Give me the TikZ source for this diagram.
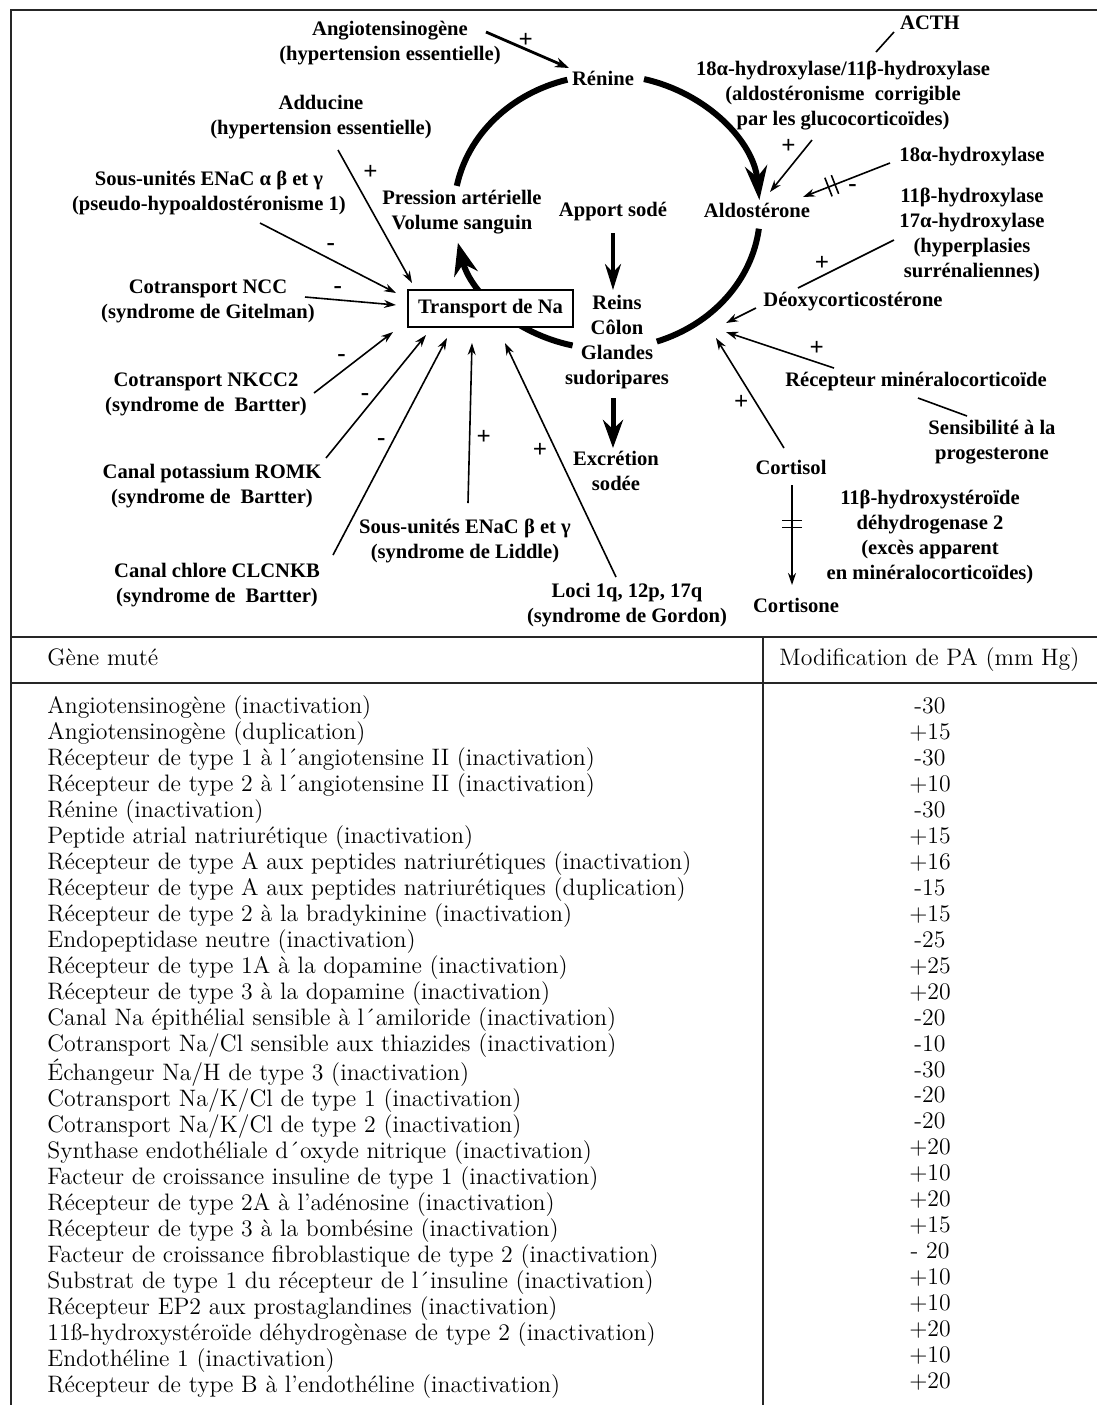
\documentclass[tikz,border=0pt]{standalone}
\usepackage{fontspec}
\newfontfamily\diagfont{Liberation Serif}
\usetikzlibrary{arrows.meta,positioning,decorations.markings}
\tikzstyle{txt} = [font=\diagfont\bfseries\fontsize{10.3}{12.5}\selectfont, align=center, inner sep=1pt]
\tikzstyle{box} = [txt, rectangle, draw, fill=white, line width=1pt,
    minimum width=82.5pt, minimum height=18.5pt]
\tikzstyle{sign} = [font=\diagfont\bfseries\fontsize{12.5}{13}\selectfont, inner sep=0pt]
\tikzstyle{line} = [draw, line width=0.8pt, -{Stealth[length=6pt, width=4pt]}]
\tikzstyle{link} = [draw, line width=0.8pt]
\tikzstyle{strong} = [draw, line width=1.8pt, -{Stealth[length=13pt, width=8pt]}]
\tikzstyle{loopline} = [draw, line width=3pt]
\tikzstyle{frame} = [draw, line width=1.2pt, black!85]
\tikzstyle{tabtext} = [font=\fontsize{11.9}{12.98}\selectfont, inner sep=0pt]
\tikzset{blocked/.style={postaction={decorate, decoration={markings,
    mark=at position #1 with {\draw [-, line width=0.8pt] (-3.5,-10) -- (-3.5,10) (3.5,-10) -- (3.5,10);}}}}}

\begin{document}
\begin{tikzpicture}[x=0.5pt, y=-0.5pt]
    \useasboundingbox (0,0) rectangle (1097,1405);
    % Frame and table rules
    \draw [frame] (1097,10) -- (11,10) -- (11,1405);
    \draw [frame] (11,637) -- (1097,637);
    \draw [frame] (11,683) -- (1097,683);
    \draw [frame] (763,637) -- (763,1405);

    % Sodium cycle
    \coordinate (cyc) at (607,212);
    \path [loopline, -{Stealth[length=17pt, width=11pt]}] ([shift={(-76:153 and 137)}]cyc) arc [start angle=-76, end angle=-5, x radius=153, y radius=137];
    \path [loopline] ([shift={(7:153 and 137)}]cyc) arc [start angle=7, end angle=71, x radius=153, y radius=137];
    \path [loopline, -{Stealth[length=16pt, width=12pt]}] ([shift={(103:153 and 137)}]cyc) arc [start angle=103, end angle=167, x radius=153, y radius=137];
    \path [loopline] ([shift={(191:153 and 137)}]cyc) arc [start angle=191, end angle=255, x radius=153, y radius=137];

    % Place nodes
    \node [txt] (angio) at (390,43) {Angiotensinogène\\(hypertension essentielle)};
    \node [txt] (renine) at (603,78) {Rénine};
    \node [txt] (acth) at (930,23) {ACTH};
    \node [txt] (hsd18) at (843,96) {18α-hydroxylase/11β-hydroxylase\\(aldostéronisme\ \ corrigible\\par les glucocorticoïdes)};
    \node [txt] (adducine) at (321,117) {Adducine\\(hypertension essentielle)};
    \node [txt] (enac) at (209,193) {Sous-unités ENaC α β et γ\\(pseudo-hypoaldostéronisme 1)};
    \node [txt] (pression) at (462,212) {Pression artérielle\\Volume sanguin};
    \node [txt] (apport) at (613,212) {Apport sodé};
    \node [txt] (aldo) at (757,210) {Aldostérone};
    \node [txt] (hyd18) at (972,157) {18α-hydroxylase};
    \node [txt] (hyper) at (972,235) {11β-hydroxylase\\17α-hydroxylase\\(hyperplasies\\surrénaliennes)};
    \node [txt] (ncc) at (208,301) {Cotransport NCC\\(syndrome de Gitelman)};
    \node [box] (transport) at (490.5,308.5) {Transport de Na};
    \node [txt] (reins) at (617,342) {Reins\\Côlon\\Glandes\\sudoripares};
    \node [txt] (deoxy) at (853,302) {Déoxycorticostérone};
    \node [txt] (nkcc) at (206,394) {Cotransport NKCC2\\(syndrome de\ \ Bartter)};
    \node [txt] (recepteur) at (916,382) {Récepteur minéralocorticoïde};
    \node [txt] (sensib) at (992,442) {Sensibilité à la\\progesterone};
    \node [txt] (romk) at (212,486) {Canal potassium ROMK\\(syndrome de\ \ Bartter)};
    \node [txt] (excretion) at (616,471) {Excrétion\\sodée};
    \node [txt] (cortisol) at (791,467) {Cortisol};
    \node [txt] (hsd11) at (930,537) {11β-hydroxystéroïde\\déhydrogenase 2\\(excès apparent\\en minéralocorticoïdes)};
    \node [txt] (liddle) at (465,541) {Sous-unités ENaC β et γ\\(syndrome de Liddle)};
    \node [txt] (clcnkb) at (217,585) {Canal chlore CLCNKB\\(syndrome de\ \ Bartter)};
    \node [txt] (loci) at (627,605) {Loci 1q, 12p, 17q\\(syndrome de Gordon)};
    \node [txt] (cortisone) at (796,605) {Cortisone};
    \coordinate (mr) at (722,330);

    % Draw edges
    \path [draw, line width=1.4pt, -{Stealth[length=7pt, width=5pt]}] ([shift={(96,-11)}]angio.center) -- node [sign, pos=.48, yshift=4.5pt] {+} ([shift={(-34,-10)}]renine.center);
    \path [line] ([shift={(17,33)}]adducine.center) -- node [sign, pos=.17, xshift=10pt] {+} ([shift={(-78.5,-25.5)}]transport.center);
    \path [line] ([shift={(51,30)}]enac.center) -- node [sign, pos=.52, yshift=6pt] {-} ([shift={(-94.5,-15.5)}]transport.center);
    \path [line] ([shift={(97,-4)}]ncc.center) -- node [sign, pos=.36, yshift=5pt] {-} ([shift={(-94.5,-3.5)}]transport.center);
    \path [line] ([shift={(108,-1)}]nkcc.center) -- node [sign, pos=.35, yshift=7pt] {-} ([shift={(-97.5,23.5)}]transport.center);
    \path [line] ([shift={(114,-28)}]romk.center) -- node [sign, pos=.39, yshift=6.5pt] {-} ([shift={(-64.5,26.5)}]transport.center);
    \path [line] ([shift={(116,-30)}]clcnkb.center) -- node [sign, pos=.52, xshift=-5.5pt] {-} ([shift={(-43.5,29.5)}]transport.center);
    \path [line] ([shift={(3,-38)}]liddle.center) -- node [sign, pos=.41, xshift=7pt] {+} ([shift={(-18.5,34.5)}]transport.center);
    \path [line] ([shift={(-11,-28)}]loci.center) -- node [sign, pos=.54, xshift=-8pt] {+} ([shift={(14.5,34.5)}]transport.center);
    \path [link] ([shift={(33,-44)}]hsd18.center) -- ([shift={(-36,9)}]acth.center);
    \path [line] ([shift={(-31,44)}]hsd18.center) -- node [sign, pos=.13, xshift=-9pt] {+} ([shift={(13,-18)}]aldo.center);
    \path [line, blocked=0.67] ([shift={(-82,6)}]hyd18.center) -- node [sign, pos=.43, yshift=-5pt] {-} ([shift={(46,-13)}]aldo.center);
    \path [link] ([shift={(-78,5)}]hyper.center) -- node [sign, pos=.75, yshift=6.5pt] {+} ([shift={(-55,-14)}]deoxy.center);
    \path [line] ([shift={(-97,6)}]deoxy.center) -- ([shift={(4,-7)}]mr);
    \path [line] ([shift={(-82,-14)}]recepteur.center) -- node [sign, pos=.16, yshift=7pt] {+} ([shift={(4,2)}]mr);
    \path [line] ([shift={(-7,-19)}]cortisol.center) -- node [sign, pos=.41, xshift=-7.5pt] {+} ([shift={(-6,8)}]mr);
    \path [link] ([shift={(2,16)}]recepteur.center) -- ([shift={(-25,-26)}]sensib.center);
    \path [line, blocked=0.39] ([shift={(1,18)}]cortisol.center) -- ([shift={(-4,-20)}]cortisone.center);
    \path [strong] ([shift={(0,21)}]apport.center) -- ([shift={(-4,-52)}]reins.center);
    \path [strong, line width=2.5pt, -{Stealth[length=14pt, width=10pt]}] ([shift={(-4,56)}]reins.center) -- ([shift={(-3,-23)}]excretion.center);

    % Table
    \node [tabtext, anchor=base west] (genehead) at (47,665) {Gène muté};
    \node [tabtext, anchor=base west] (pahead) at (779,665) {Modification de PA (mm Hg)};
    \node [tabtext, anchor=north west, align=left] (genes) at (47,695) {\strut Angiotensinogène (inactivation)\\
        Angiotensinogène (duplication)\\
        Récepteur de type 1 à l´angiotensine II (inactivation)\\
        Récepteur de type 2 à l´angiotensine II (inactivation)\\
        Rénine (inactivation)\\
        Peptide atrial natriurétique (inactivation)\\
        Récepteur de type A aux peptides natriurétiques (inactivation)\\
        Récepteur de type A aux peptides natriurétiques (duplication)\\
        Récepteur de type 2 à la bradykinine (inactivation)\\
        Endopeptidase neutre (inactivation)\\
        Récepteur de type 1A à la dopamine (inactivation)\\
        Récepteur de type 3 à la dopamine (inactivation)\\
        Canal Na épithélial sensible à l´amiloride (inactivation)\\
        Cotransport Na/Cl sensible aux thiazides (inactivation)\\
        Échangeur Na/H de type 3 (inactivation)\\
        Cotransport Na/K/Cl de type 1 (inactivation)\\
        Cotransport Na/K/Cl de type 2 (inactivation)\\
        Synthase endothéliale d´oxyde nitrique (inactivation)\\
        Facteur de croissance insuline de type 1 (inactivation)\\
        Récepteur de type 2A à l’adénosine (inactivation)\\
        Récepteur de type 3 à la bombésine (inactivation)\\
        Facteur de croissance fibroblastique de type 2 (inactivation)\\
        Substrat de type 1 du récepteur de l´insuline (inactivation)\\
        Récepteur EP2 aux prostaglandines (inactivation)\\
        11ß-hydroxystéroïde déhydrogènase de type 2 (inactivation)\\
        Endothéline 1 (inactivation)\\
        Récepteur de type B à l’endothéline (inactivation)};
    \node [tabtext, anchor=north, align=center] (values) at (930,695) {\strut -30\\+15\\-30\\+10\\-30\\+15\\+16\\-15\\+15\\-25\\+25\\+20\\-20\\-10\\-30\\-20\\-20\\+20\\+10\\+20\\+15\\- 20\\+10\\+10\\+20\\+10\\+20};
\end{tikzpicture}
\end{document}
